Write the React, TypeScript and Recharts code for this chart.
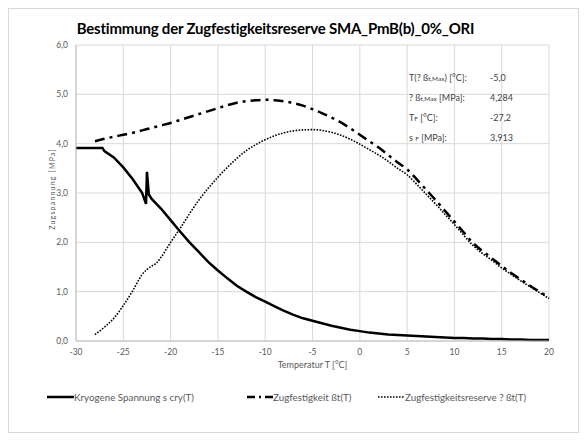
import { LineChart, Line, XAxis, YAxis, CartesianGrid } from "recharts"

// Temperaturen [°C] und Werte [MPa]
const kryoT = [-30, -29, -28, -27.2, -27, -26, -25, -24, -23, -22.6, -22.5, -22.3, -22, -21, -20, -19, -18, -17, -16, -15, -14, -13, -12, -11, -10, -9, -8, -7, -6, -5, -4, -3, -2, -1, 0, 1, 2, 3, 4, 5, 6, 7, 8, 9, 10, 11, 12, 13, 14, 15, 16, 17, 18, 19, 20]
const kryoV = [3.913, 3.913, 3.913, 3.913, 3.85, 3.72, 3.52, 3.28, 3.0, 2.78, 3.43, 2.97, 2.88, 2.68, 2.45, 2.22, 2.0, 1.8, 1.6, 1.43, 1.27, 1.12, 1.0, 0.89, 0.8, 0.7, 0.61, 0.53, 0.46, 0.41, 0.36, 0.31, 0.27, 0.23, 0.2, 0.17, 0.15, 0.13, 0.12, 0.11, 0.1, 0.09, 0.08, 0.07, 0.06, 0.06, 0.05, 0.05, 0.04, 0.04, 0.03, 0.03, 0.02, 0.02, 0.02]

const zugT = [-28, -27, -26, -25, -24, -23, -22, -21, -20, -19, -18, -17, -16, -15, -14, -13, -12, -11, -10, -9, -8, -7, -6, -5, -4, -3, -2, -1, 0, 1, 2, 3, 4, 5, 6, 7, 8, 9, 10, 11, 12, 13, 14, 15, 16, 17, 18, 19, 20]
const zugV = [4.05, 4.1, 4.14, 4.18, 4.22, 4.27, 4.32, 4.37, 4.42, 4.48, 4.54, 4.6, 4.66, 4.72, 4.78, 4.83, 4.86, 4.88, 4.89, 4.88, 4.86, 4.82, 4.77, 4.7, 4.62, 4.53, 4.43, 4.31, 4.18, 4.05, 3.92, 3.77, 3.62, 3.48, 3.28, 3.07, 2.86, 2.64, 2.42, 2.2, 1.98, 1.82, 1.67, 1.52, 1.38, 1.25, 1.12, 1.0, 0.88]

const resT = [-28, -27, -26, -25, -24, -23, -22.5, -22, -21.5, -21, -20, -19, -18, -17, -16, -15, -14, -13, -12, -11, -10, -9, -8, -7, -6, -5, -4, -3, -2, -1, 0, 1, 2, 3, 4, 5, 6, 7, 8, 9, 10, 11, 12, 13, 14, 15, 16, 17, 18, 19, 20]
const resV = [0.13, 0.28, 0.46, 0.72, 1.02, 1.35, 1.45, 1.52, 1.58, 1.7, 2.0, 2.28, 2.58, 2.86, 3.1, 3.32, 3.52, 3.7, 3.86, 3.98, 4.08, 4.16, 4.22, 4.26, 4.28, 4.284, 4.27, 4.23, 4.17, 4.09, 3.99, 3.88, 3.77, 3.64, 3.5, 3.37, 3.18, 2.98, 2.78, 2.57, 2.36, 2.14, 1.93, 1.77, 1.63, 1.48, 1.35, 1.22, 1.1, 0.98, 0.86]

const xTicks = [-30, -25, -20, -15, -10, -5, 0, 5, 10, 15, 20]
const yTicks = [0, 1, 2, 3, 4, 5, 6]

const kryoData = kryoT.map((t, i) => ({ t, v: kryoV[i] }))
const zugData = zugT.map((t, i) => ({ t, v: zugV[i] }))
const resData = resT.map((t, i) => ({ t, v: resV[i] }))

const FONT = "Lato, 'Liberation Sans', sans-serif"
const GRAY = "#595959"

const sub = { fontSize: 6.5 }

export default function App() {
  return (
    <div
      style={{
        position: "relative",
        width: 569,
        height: 423,
        border: "1px solid #d9d9d9",
        background: "#fff",
        fontFamily: FONT,
      }}
    >
      <div
        style={{
          position: "absolute",
          top: 10,
          left: -18,
          width: 569,
          textAlign: "center",
          fontWeight: 700,
          fontSize: 15,
          color: "#000",
          letterSpacing: -0.2,
        }}
      >
        Bestimmung der Zugfestigkeitsreserve SMA_PmB(b)_0%_ORI
      </div>

      <LineChart
        width={569}
        height={423}
        margin={{ top: 36, right: 29, bottom: 61, left: 37 }}
        style={{ position: "absolute", top: 0, left: 0 }}
      >
        <CartesianGrid stroke="#d9d9d9" strokeWidth={1} />
        <XAxis
          type="number"
          dataKey="t"
          domain={[-30, 20]}
          ticks={xTicks}
          allowDuplicatedCategory={false}
          tickLine={false}
          axisLine={{ stroke: "#bfbfbf" }}
          tick={{ fontSize: 8.5, fill: GRAY, fontFamily: FONT }}
          height={30}
          label={{
            value: "Temperatur T [°C]",
            position: "insideBottom",
            offset: 3,
            fontSize: 9,
            fill: GRAY,
            fontFamily: FONT,
          }}
        />
        <YAxis
          type="number"
          domain={[0, 6]}
          ticks={yTicks}
          tickLine={false}
          axisLine={{ stroke: "#bfbfbf" }}
          tick={{ fontSize: 8.5, fill: GRAY, fontFamily: FONT }}
          tickFormatter={(v: number) => v.toFixed(1).replace(".", ",")}
          width={30}
        />
        <Line
          data={kryoData}
          dataKey="v"
          type="linear"
          stroke="#000"
          strokeWidth={2.5}
          dot={false}
          activeDot={false}
          isAnimationActive={false}
        />
        <Line
          data={zugData}
          dataKey="v"
          type="monotone"
          stroke="#000"
          strokeWidth={2.5}
          strokeDasharray="10 5 3 5"
          dot={false}
          activeDot={false}
          isAnimationActive={false}
        />
        <Line
          data={resData}
          dataKey="v"
          type="monotone"
          stroke="#000"
          strokeWidth={1.6}
          strokeDasharray="1.6 1.4"
          dot={false}
          activeDot={false}
          isAnimationActive={false}
        />
      </LineChart>

      {/* Achsentitel y */}
      <div
        style={{
          position: "absolute",
          left: 43,
          top: 180,
          transform: "translate(-50%, -50%) rotate(-90deg)",
          fontSize: 7,
          letterSpacing: 1.2,
          color: GRAY,
          whiteSpace: "nowrap",
        }}
      >
        Zugspannung [MPa]
      </div>

      <div
        style={{
          position: "absolute",
          left: 400,
          top: 59,
          fontSize: 9,
          color: "#404040",
          lineHeight: "19px",
        }}
      >
        <div style={{ position: "relative", width: 140 }}>
          <div>
            T(? ß<span style={sub}>t,Max</span>) [°C]:
            <span style={{ position: "absolute", left: 81 }}>-5,0</span>
          </div>
          <div>
            ? ß<span style={sub}>t,Max</span> [MPa]:
            <span style={{ position: "absolute", left: 81 }}>4,284</span>
          </div>
          <div>
            T<span style={sub}>F</span> [°C]:
            <span style={{ position: "absolute", left: 81 }}>-27,2</span>
          </div>
          <div>
            s <span style={sub}>F</span> [MPa]:
            <span style={{ position: "absolute", left: 81 }}>3,913</span>
          </div>
        </div>
      </div>

      <div
        style={{
          position: "absolute",
          top: 382,
          left: 0,
          width: 569,
          fontSize: 9.8,
          color: GRAY,
        }}
      >
        <div style={{ position: "absolute", left: 38, display: "flex", alignItems: "center" }}>
          <svg width={27} height={10}>
            <line x1={0} y1={5} x2={27} y2={5} stroke="#000" strokeWidth={2.5} />
          </svg>
          <span>Kryogene Spannung s cry(T)</span>
        </div>
        <div style={{ position: "absolute", left: 238, display: "flex", alignItems: "center" }}>
          <svg width={26} height={10}>
            <line x1={0} y1={5} x2={26} y2={5} stroke="#000" strokeWidth={2.5} strokeDasharray="8 4 2 4" />
          </svg>
          <span>Zugfestigkeit ßt(T)</span>
        </div>
        <div style={{ position: "absolute", left: 369, display: "flex", alignItems: "center" }}>
          <svg width={27} height={10}>
            <line x1={0} y1={5} x2={27} y2={5} stroke="#000" strokeWidth={1.6} strokeDasharray="1.6 1.4" />
          </svg>
          <span>Zugfestigkeitsreserve ? ßt(T)</span>
        </div>
      </div>
    </div>
  )
}
